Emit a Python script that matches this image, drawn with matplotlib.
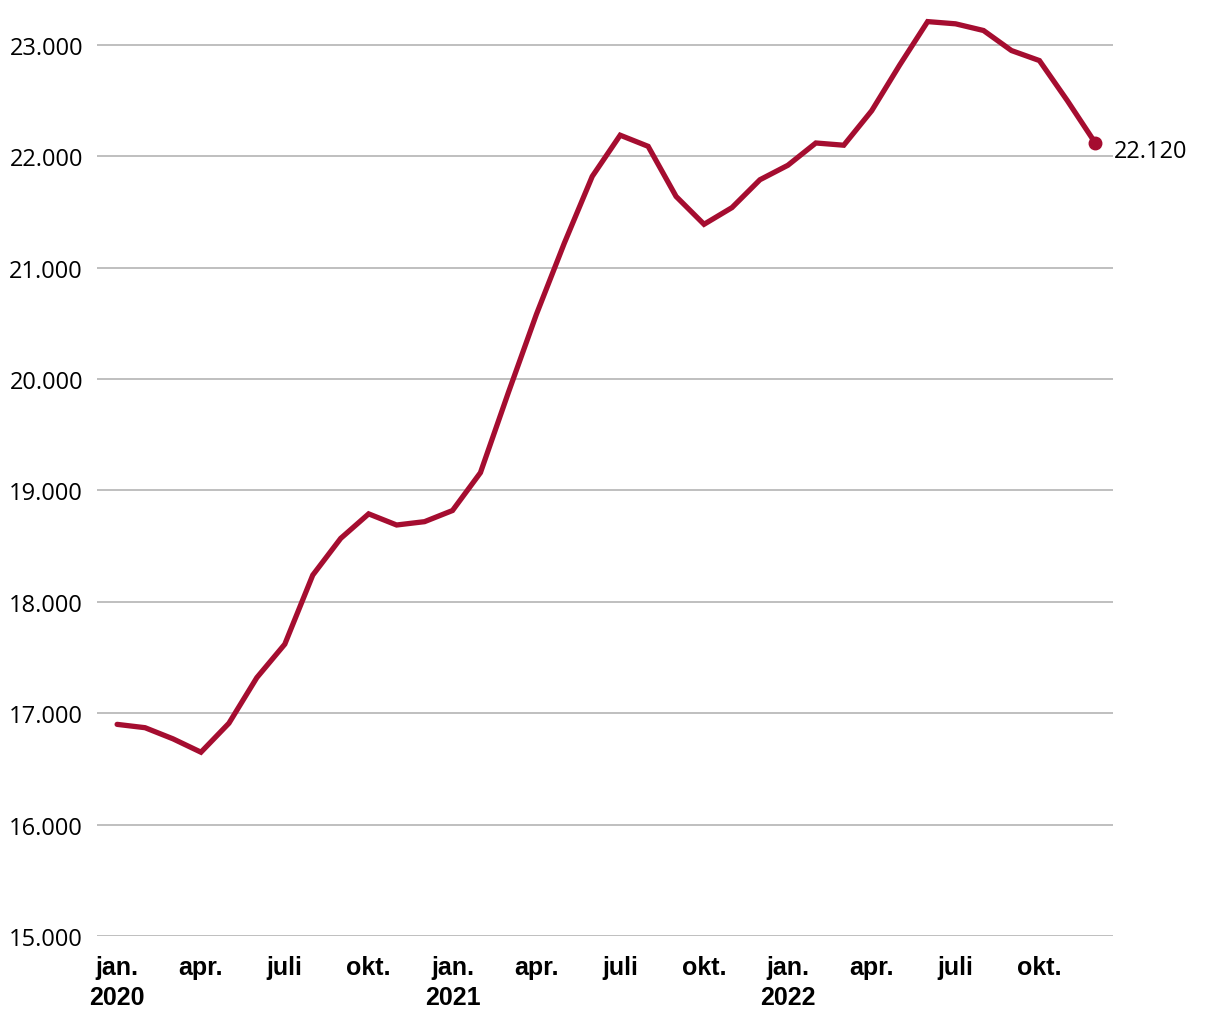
import matplotlib.pyplot as plt

# månedlige værdier jan. 2020 - dec. 2022
values = [16900, 16870, 16770, 16650, 16910, 17320, 17620, 18240, 18570, 18790, 18690, 18720,
          18820, 19160, 19880, 20580, 21220, 21820, 22190, 22090, 21640, 21390, 21540, 21790,
          21920, 22120, 22100, 22410, 22820, 23210, 23190, 23130, 22950, 22860, 22500, 22120]
tick_pos = [0, 3, 6, 9, 12, 15, 18, 21, 24, 27, 30, 33]
tick_labels = ['jan.\n2020', 'apr.', 'juli', 'okt.', 'jan.\n2021', 'apr.', 'juli', 'okt.',
               'jan.\n2022', 'apr.', 'juli', 'okt.']
y_ticks = [15000, 16000, 17000, 18000, 19000, 20000, 21000, 22000, 23000]
last_label = '22.120'

red = '#a50d30'

fig = plt.figure(figsize=(12.2, 10.2), dpi=100)
ax = fig.add_axes([0.0795, 0.0814, 0.8325, 0.903])

x = list(range(len(values)))
ax.plot(x, values, color=red, lw=3.8, solid_capstyle='round', solid_joinstyle='miter', zorder=3)
ax.plot(x[-1], values[-1], 'o', color=red, ms=9, zorder=4)
ax.annotate(last_label, (x[-1], values[-1]), xytext=(13.5, -6), textcoords='offset points',
            va='center', ha='left', fontsize=17, family=['Open Sans', 'DejaVu Sans'])

ax.set_ylim(15000, 23270)
ax.set_xlim(-0.72, 35.62)
ax.set_yticks(y_ticks)
ax.set_yticklabels([f'{v:,}'.replace(',', '.') for v in y_ticks],
                   fontsize=17, family=['Open Sans', 'DejaVu Sans'])
ax.set_xticks(tick_pos)
ax.set_xticklabels(tick_labels, fontsize=18, fontweight='bold',
                   family=['Liberation Sans Narrow', 'Liberation Sans'], linespacing=1.3)
ax.tick_params(axis='both', length=0)
ax.tick_params(axis='x', pad=14)
ax.tick_params(axis='y', pad=10)
ax.grid(axis='y', color='#bfbfbf', lw=1.4)
ax.set_axisbelow(True)
for s in ax.spines.values():
    s.set_visible(False)

fig.savefig('out.png', dpi=100)
